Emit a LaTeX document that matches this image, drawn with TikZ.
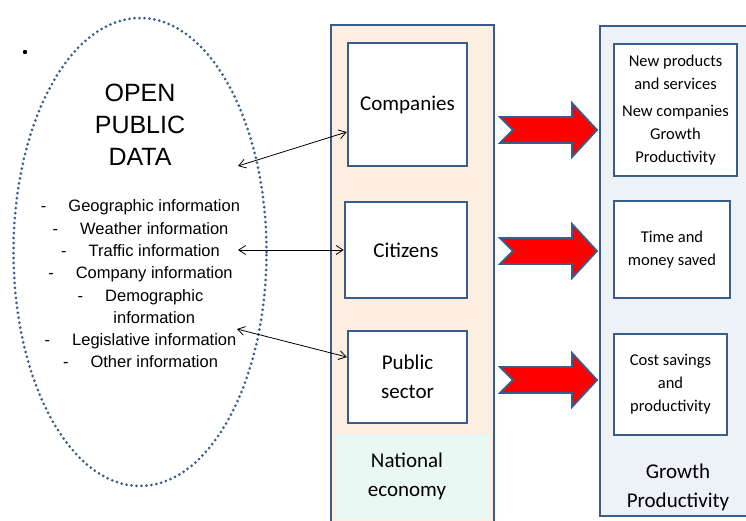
\documentclass[tikz,border=0pt]{standalone}
\usepackage{fontspec}
\setmainfont{Liberation Sans}
\newfontfamily\calibri{Carlito}
\usetikzlibrary{arrows.meta,shapes.geometric}
\definecolor{steel}{RGB}{56,93,138}
\definecolor{peach}{RGB}{253,238,226}
\definecolor{mist}{RGB}{237,241,248}
\definecolor{mint}{RGB}{234,248,243}
\tikzset{
  column/.style={draw=steel,line width=2.5pt,inner sep=0pt},
  sector/.style={draw=steel,line width=2.5pt,fill=white,inner sep=0pt,align=center,
    font=\calibri\fontsize{21}{29}\selectfont},
  gain/.style={sector,font=\calibri\fontsize{16.5}{23}\selectfont},
  link/.style={{Straight Barb[length=7pt,width=9pt]}-{Straight Barb[length=7pt,width=9pt]},line width=0.8pt}
}

\begin{document}
\begin{tikzpicture}[x=1pt,y=-1pt]
  \useasboundingbox (0,0) rectangle (746,520);
  \clip (0,0) rectangle (746,520);

  % economy and outcome columns
  \node[column,fill=peach,minimum width=163pt,minimum height=500pt] (econ) at (412.5,275) {};
  \fill[mint] (336,434) rectangle (489,520);
  \node[column,fill=mist,minimum width=169pt,minimum height=490pt] (growth) at (684.5,271) {};

  % open data cloud
  \fill (25,52) circle (2.2pt);
  \node[ellipse,draw=steel,line width=3pt,dash pattern=on 0pt off 5pt,line cap=round,
    minimum width=253pt,minimum height=468pt,inner sep=0pt] (data) at (140,252) {};
  \node[font=\fontsize{25}{32}\selectfont,align=center] (title) at (140,125) {OPEN\\PUBLIC\\DATA};
  \node[font=\fontsize{16.5}{22.3}\selectfont,align=center] (kinds) at (140.5,284) {%
    -\hspace{22pt}Geographic information\\
    -\hspace{22pt}Weather information\\
    -\hspace{22pt}Traffic information\\
    -\hspace{22pt}Company information\\
    -\hspace{22pt}Demographic\\
    \phantom{-}\hspace{22pt}information\\
    -\hspace{22pt}Legislative information\\
    -\hspace{22pt}Other information};

  % users of the data
  \node[sector,minimum width=119pt,minimum height=123pt] (companies) at (407.5,104.5) {Companies};
  \node[sector,minimum width=122pt,minimum height=96pt] (citizens) at (406,250) {Citizens};
  \node[sector,minimum width=119pt,minimum height=92pt] (public) at (407.5,377) {Public\\sector};
  \node[font=\calibri\fontsize{21}{29}\selectfont,align=center] (nat) at (407,476) {National\\economy};

  % what it gives
  \node[gain,minimum width=123pt,minimum height=132pt] (products) at (675.5,110)
    {New products\\and services\\[4pt]New companies\\Growth\\Productivity};
  \node[gain,minimum width=116pt,minimum height=97pt] (saved) at (672,249.5) {Time and\\money saved};
  \node[gain,minimum width=113pt,minimum height=101pt] (savings) at (670.5,384.5)
    {Cost savings\\and\\productivity};
  \node[font=\calibri\fontsize{21}{29}\selectfont,align=center] (gp) at (678,487) {Growth\\Productivity};

  % data to users
  \coordinate (d1) at (238,166);
  \coordinate (d2) at (238,250);
  \coordinate (d3) at (237,329);
  \draw[link] (d1) -- ([yshift=-27.5pt]companies.west);
  \draw[link] (d2) -- (citizens.west);
  \draw[link] (d3) -- ([yshift=20pt]public.west);

  % block arrows
  \foreach \y in {130,251,380}
    \draw[draw=steel,line width=1.8pt,fill=red,line join=miter]
      (500,\y-13) -- ++(72,0) -- ++(0,-14) -- (597,\y) -- (572,\y+27) -- ++(0,-14)
      -- (500,\y+13) -- (513,\y) -- cycle;
\end{tikzpicture}
\end{document}
